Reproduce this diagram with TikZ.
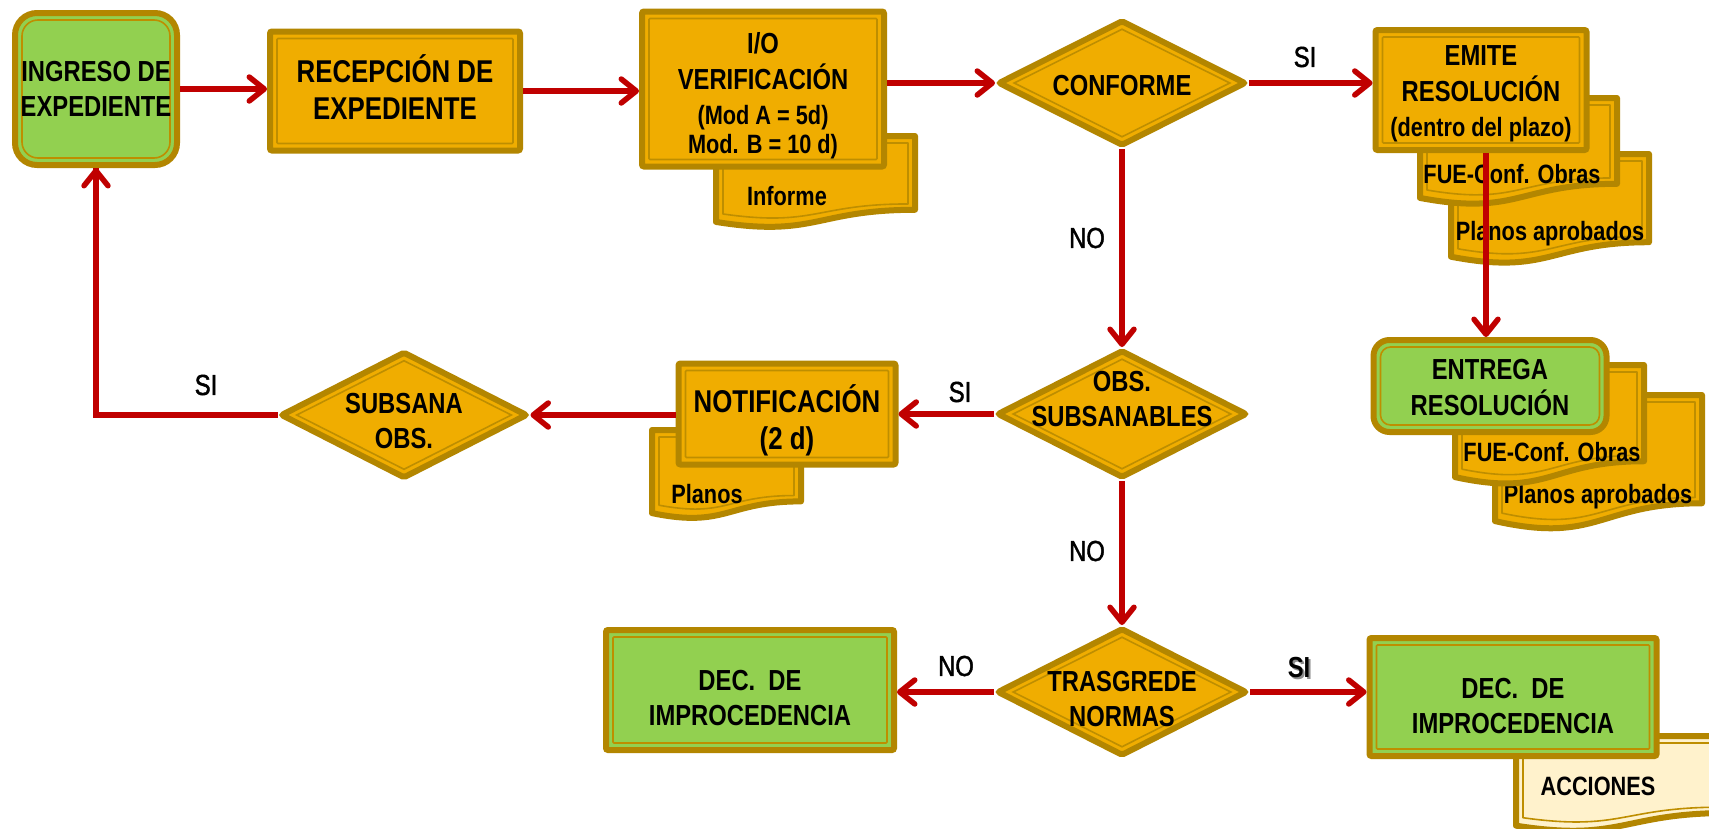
\documentclass[tikz,border=0pt]{standalone}
\usepackage{fontspec}
\setmainfont{Liberation Sans}[FakeStretch=0.82]
\newfontfamily\lblfamily{Liberation Sans}[FakeStretch=0.82, FakeBold=1.5]
\usetikzlibrary{shapes.geometric,arrows.meta}

\definecolor{gold}{HTML}{B38600}
\definecolor{goldline}{HTML}{BE8E00}
\definecolor{amber}{HTML}{F0AD00}
\definecolor{leaf}{HTML}{92D050}
\definecolor{cream}{HTML}{FFF2CC}
\definecolor{flow}{HTML}{C00000}

% text sizes (1pt = 1 pixel of the drawing)
\newcommand\bigtxt{\fontsize{29}{35}\selectfont\bfseries}
\newcommand\largetxt{\fontsize{31.5}{37}\selectfont\bfseries}
\newcommand\smalltxt{\fontsize{26.5}{32}\selectfont\bfseries}
\newcommand\lbltxt{\lblfamily\fontsize{29}{35}\selectfont}

% centred block of lines with no size of its own, raised by the optional length
\newcommand\ctxt[2][0pt]{\makebox[0pt]{\raisebox{#1}[0pt][0pt]{\begin{tabular}{@{}c@{}}#2\end{tabular}}}}

% outline of a document sheet with a wavy lower edge: left, top, right, height
\newcommand\docpath[4]{({#1},{#2}) -- ({#3},{#2}) -- ({#3},{(#2)+0.802*(#4)})
  .. controls ({((#1)+(#3))/2},{(#2)+0.802*(#4)}) and ({((#1)+(#3))/2},{(#2)+1.107*(#4)})
  .. ({#1},{(#2)+0.934*(#4)}) -- cycle}

% a filled sheet with its thick border and thin inner line
\newcommand\docsheet[5]{%
  \path[draw=gold, line width=6pt, fill=#5, line join=round] \docpath{#1}{#2}{#3}{#4};
  \draw[goldline, line width=1.6pt, line join=round] \docpath{(#1)+7}{(#2)+7}{(#3)-7}{(#4)-16};
}

\tikzset{
  base/.style={draw=gold, line width=6pt, align=center, inner sep=0pt, font=\bigtxt},
  box/.style={base, rectangle, fill=amber, rounded corners=2pt,
    path picture={\draw[goldline, line width=1.6pt, rounded corners=1pt]
      ([shift={(7pt,7pt)}]path picture bounding box.south west) rectangle
      ([shift={(-7pt,-7pt)}]path picture bounding box.north east);}},
  greenbox/.style={box, fill=leaf},
  terminal/.style={base, rectangle, fill=leaf, rounded corners=#1,
    path picture={\draw[goldline, line width=1.6pt, rounded corners=#1-6pt]
      ([shift={(7pt,7pt)}]path picture bounding box.south west) rectangle
      ([shift={(-7pt,-7pt)}]path picture bounding box.north east);}},
  decision/.style={base, diamond, fill=amber, minimum width=248pt, minimum height=126pt,
    rounded corners=2pt,
    path picture={\draw[goldline, line width=1.6pt, sharp corners]
      ([yshift=-8pt]path picture bounding box.north) --
      ([xshift=-15pt]path picture bounding box.east) --
      ([yshift=8pt]path picture bounding box.south) --
      ([xshift=15pt]path picture bounding box.west) -- cycle;}},
  doctext/.style={font=\smalltxt, inner sep=0pt},
  flowline/.style={draw=flow, line width=5.5pt,
    -{Straight Barb[length=15pt, width=24pt, round]}},
  lbl/.style={font=\lbltxt, inner sep=0pt},
}

\begin{document}
\begin{tikzpicture}[x=1pt, y=-1pt]
\useasboundingbox (0,0) rectangle (1709,828);
\fill[white] (0,0) rectangle (1709,828);

% ---- document sheets (behind the process boxes) ----
\docsheet{716}{136}{915}{92}{amber}
\node[doctext] (informe) at (787,196) {Informe};

\docsheet{1451}{154}{1649}{110}{amber}
\node[doctext] (planos1) at (1550,234) {Planos aprobados};
\docsheet{1420}{98}{1617}{107}{amber}
\node[doctext] (fue1) at (1512,174) {FUE-Conf. Obras};

\docsheet{1495}{395}{1702}{135}{amber}
\node[doctext] (planos2) at (1598,497) {Planos aprobados};
\docsheet{1455}{365}{1644}{120}{amber}
\node[doctext] (fue2) at (1552,452) {FUE-Conf. Obras};

\docsheet{652}{430}{801}{89}{amber}
\node[doctext] (planos3) at (707,494) {Planos};

\docsheet{1516}{736}{1728}{96}{cream}
\node[doctext] (acciones) at (1598,786) {ACCIONES};

% ---- process boxes ----
\node[terminal=22pt, minimum width=162pt, minimum height=152pt] (ing) at (96,89)
  {\ctxt[-9pt]{INGRESO DE\\EXPEDIENTE}};
\node[box, font=\largetxt, minimum width=250pt, minimum height=119pt] (rec) at (395,91)
  {\ctxt[-7.5pt]{RECEPCIÓN DE\\EXPEDIENTE}};
\node[box, minimum width=242pt, minimum height=155pt] (io) at (763,89)
  {\ctxt[-14pt]{I/O\\VERIFICACIÓN\\{\smalltxt (Mod A = 5d)}\\[-6pt]{\smalltxt Mod. B = 10 d)}}};
\node[decision] (conf) at (1122,83) {\ctxt[-11.5pt]{CONFORME}};
\node[box, minimum width=211pt, minimum height=120pt] (emite) at (1481,90)
  {\ctxt[-10.5pt]{EMITE\\RESOLUCIÓN\\{\smalltxt (dentro del plazo)}}};
\node[terminal=16pt, minimum width=233pt, minimum height=92pt] (entrega) at (1490,386)
  {\ctxt[-10.5pt]{ENTREGA\\RESOLUCIÓN}};

\node[decision, minimum width=250pt, minimum height=128pt] (obs) at (1122,414)
  {\ctxt[5.5pt]{OBS.\\SUBSANABLES}};
\node[box, font=\largetxt, minimum width=217pt, minimum height=101pt] (notif) at (787,414)
  {\ctxt[-15pt]{NOTIFICACIÓN\\(2 d)}};
\node[decision, minimum width=247pt, minimum height=127pt] (subs) at (404,415)
  {\ctxt[-15pt]{SUBSANA\\OBS.}};

\node[decision, minimum width=250pt, minimum height=128pt] (trasg) at (1122,692)
  {\ctxt[-16pt]{TRASGREDE\\NORMAS}};
\node[greenbox, minimum width=288pt, minimum height=120pt] (decl) at (750,690)
  {\ctxt[-17pt]{DEC.\ \ DE\\IMPROCEDENCIA}};
\node[greenbox, minimum width=287pt, minimum height=118pt] (decr) at (1513,697)
  {\ctxt[-18.5pt]{DEC.\ \ DE\\IMPROCEDENCIA}};

% ---- connectors ----
\draw[flowline] (ing.east) -- (ing.east -| rec.west);
\draw[flowline] (rec.east) -- (rec.east -| io.west);
\draw[flowline] (conf.west -| io.east) -- (conf.west);
\draw[flowline] (conf.east) -- (conf.east -| emite.west);
\draw[flowline] (conf.south) -- (obs.north);
\draw[flowline] (emite.south -| 1486,0) -- (entrega.north -| 1486,0);
\draw[flowline] (obs.west) -- (obs.west -| notif.east);
\draw[flowline] (notif.west |- subs.east) -- (subs.east);
\draw[flowline, -] (subs.west) -| (ing.south);
\draw[flowline] (ing.south |- 0,300) -- (ing.south);
\draw[flowline] (obs.south) -- (trasg.north);
\draw[flowline] (trasg.west) -- (trasg.west -| decl.east);
\draw[flowline] (trasg.east) -- (trasg.east -| decr.west);

% ---- branch labels ----
\node[lbl] (si1) at (1305,57) {SI};
\node[lbl] (no1) at (1087,238) {NO};
\node[lbl] (si2) at (960,392) {SI};
\node[lbl] (si3) at (206,385) {SI};
\node[lbl] (no2) at (1087,551) {NO};
\node[lbl] (no3) at (956,666) {NO};
\node[lbl, font=\bigtxt, text=black!45] (si4sh) at (1301,670) {SI};
\node[lbl, font=\bigtxt] (si4) at (1299,668) {SI};
\end{tikzpicture}
\end{document}
